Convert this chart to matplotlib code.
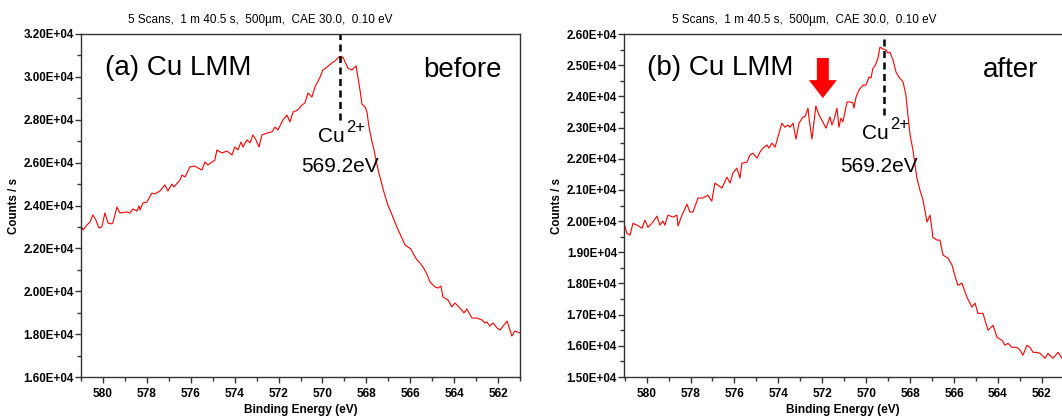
import matplotlib
matplotlib.use('Agg')
import matplotlib.pyplot as plt
from matplotlib.ticker import MultipleLocator, FuncFormatter
from matplotlib.patches import FancyArrow

# 字体设置
plt.rcParams['font.family'] = ['Liberation Sans', 'DejaVu Sans']

scan_info = "5 Scans,  1 m 40.5 s,  500µm,  CAE 30.0,  0.10 eV"
panel_labels = ["(a) Cu LMM", "(b) Cu LMM"]
state_labels = ["before", "after"]
peak_energy = 569.2

# (a) before: binding energy (eV) / counts per second
be_a = [581.05, 580.91, 580.73, 580.59, 580.46, 580.32, 580.18, 580.05, 579.91, 579.77,
        579.59, 579.54, 579.36, 579.23, 578.91, 578.77, 578.63, 578.45, 578.36, 578.31,
        578.18, 578.00, 577.77, 577.63, 577.40, 577.18, 577.04, 576.86, 576.77, 576.49,
        576.40, 576.26, 576.04, 575.81, 575.67, 575.49, 575.35, 575.22, 574.90, 574.81,
        574.58, 574.35, 574.12, 573.99, 573.85, 573.71, 573.62, 573.44, 573.30, 573.17,
        573.03, 572.89, 572.76, 572.53, 572.30, 572.16, 572.03, 571.80, 571.62, 571.48,
        571.34, 571.12, 570.93, 570.80, 570.66, 570.48, 570.34, 570.11, 569.98, 569.79,
        569.57, 569.43,
        569.25, 569.16, 569.07, 568.97, 568.84, 568.66, 568.52, 568.47, 568.38, 568.29,
        568.20, 568.06, 567.97, 567.88, 567.74, 567.65, 567.56, 567.43, 567.33, 567.20,
        567.02, 566.83, 566.61, 566.38, 566.24, 566.10, 565.97, 565.83, 565.69, 565.56,
        565.42, 565.24, 565.10,
        564.87, 564.74, 564.60, 564.51, 564.28, 564.10, 563.96, 563.74, 563.55, 563.42,
        563.19, 562.96, 562.73, 562.60, 562.51, 562.37, 562.23, 562.05, 561.91, 561.59,
        561.37, 561.23, 561.00]
cps_a = [23180, 22860, 23090, 23230, 23560, 23320, 22950, 23000, 23650, 23180,
         23140, 23230, 23930, 23650, 23700, 23650, 23840, 23740, 23980, 23790,
         24120, 24160, 24580, 24540, 24680, 24960, 24680, 25000, 24860, 25190,
         25420, 25330, 25800, 25840, 25750, 25660, 26030, 25890, 26120, 26590,
         26450, 26540, 26360, 26730, 26590, 26960, 26730, 27060, 26920, 27290,
         27060, 26730, 27290, 27380, 27430, 27660, 27520, 27990, 28220, 27900,
         28360, 28460, 28690, 28780, 29250, 29060, 29530, 29990, 30320, 30460,
         30650, 30740,
         30930, 30830, 30930, 30690, 30410, 30320, 30460, 30510, 29950, 29390,
         28730, 28600, 28360, 27660, 26960, 26590, 26120, 25520, 25140, 24630,
         24020, 23560, 23000, 22480, 22160, 22060, 21970, 21690, 21460, 21320,
         21130, 20800, 20430,
         20200, 20150, 20240, 19730, 19590, 19270, 19450, 19220, 18990, 19170,
         18750, 18750, 18660, 18520, 18570, 18380, 18520, 18290, 18190, 18610,
         17910, 18150, 18050]

# (b) after
be_b = [581.03, 580.90, 580.76, 580.62, 580.44, 580.21, 580.08, 579.94, 579.71, 579.53,
        579.39, 579.26, 579.17, 579.03, 578.80, 578.62, 578.57, 578.39, 578.16, 578.03,
        577.89, 577.66, 577.44, 577.21, 577.03, 576.89, 576.75, 576.57, 576.34, 576.20,
        576.07, 575.89, 575.75, 575.66, 575.43, 575.29, 575.16, 574.97, 574.84, 574.70,
        574.52, 574.43, 574.29, 574.15, 574.02,
        573.84, 573.70, 573.56, 573.47, 573.33, 573.20, 573.06, 572.88, 572.79, 572.65,
        572.61, 572.47, 572.29, 572.15, 571.97, 571.83, 571.65, 571.56, 571.47, 571.33,
        571.24, 571.15, 571.06, 570.87, 570.74, 570.60, 570.56, 570.46, 570.33, 570.15,
        570.01, 569.87, 569.78, 569.69, 569.60, 569.46, 569.37, 569.23, 569.10, 569.01,
        568.92, 568.78, 568.64, 568.51, 568.32, 568.19, 568.10, 568.00, 567.87, 567.69,
        567.55, 567.41, 567.23, 567.09, 566.96, 566.77, 566.64, 566.50, 566.27, 566.09,
        565.95, 565.82, 565.64, 565.41, 565.18, 565.04, 564.91, 564.68, 564.45, 564.22,
        564.04, 563.81, 563.68, 563.54, 563.36, 563.13, 562.99, 562.86, 562.67, 562.54,
        562.40, 562.22, 562.08, 561.85, 561.72, 561.49, 561.26, 561.08]
cps_b = [19930, 19610, 19550, 19930, 19870, 19770, 20030, 19800, 19970, 20160,
         19870, 20000, 19870, 20190, 20130, 20190, 19840, 20190, 20540, 20290,
         20290, 20740, 20740, 20830, 20640, 21220, 21150, 21060, 21410, 21220,
         21540, 21700, 21380, 21860, 21890, 22120, 22180, 22020, 22210, 22340,
         22440, 22340, 22500, 22370, 22690,
         23140, 23010, 23080, 23010, 23140, 22630, 23140, 23340, 23340, 23620,
         23340, 22630, 23690, 23400, 23180, 22980, 23340, 23080, 23240, 23620,
         23010, 23300, 23180, 23820, 23820, 23790, 23620, 23980, 24200, 24360,
         24360, 24620, 24590, 24910, 24970, 25230, 25580, 25520, 25490, 25390,
         25420, 25170, 24780, 24620, 24460, 24040, 23400, 22760, 22280, 21380,
         20990, 20670, 19970, 20190, 19480, 19390, 19390, 18910, 18810, 18590,
         18230, 17940, 18010, 17560, 17240, 17370, 17040, 17040, 16500, 16660,
         16270, 16180, 16020, 16080, 15950, 15950, 15860, 15700, 16020, 15950,
         15790, 15790, 15760, 15600, 15760, 15600, 15790, 15600]

W, H = 1062, 417
fig = plt.figure(figsize=(W / 100, H / 100), dpi=100)
ax_a = fig.add_axes([81 / W, 40 / H, 439 / W, 343 / H])
ax_b = fig.add_axes([624 / W, 40 / H, 438 / W, 343 / H])

sci = FuncFormatter(lambda v, pos: '{:.2E}'.format(v))
edge = '#333333'


def style(ax, xlim, ylim, ymajor):
    ax.set_xlim(*xlim)
    ax.set_ylim(*ylim)
    ax.xaxis.set_major_locator(MultipleLocator(2))
    ax.xaxis.set_minor_locator(MultipleLocator(1))
    ax.yaxis.set_major_locator(MultipleLocator(ymajor))
    ax.yaxis.set_minor_locator(MultipleLocator(ymajor / 2))
    ax.yaxis.set_major_formatter(sci)
    ax.tick_params(which='both', direction='out', color=edge, width=1)
    ax.tick_params(which='major', length=4)
    ax.tick_params(which='minor', length=3)
    ax.tick_params(axis='y', pad=1, labelsize=8.4)
    ax.tick_params(axis='x', pad=4, labelsize=8.6)
    for lab in ax.get_xticklabels() + ax.get_yticklabels():
        lab.set_fontweight('bold')
    for sp in ax.spines.values():
        sp.set_color(edge)
        sp.set_linewidth(1)
    ax.set_xlabel('Binding Energy (eV)', fontsize=8.6, fontweight='bold')
    ax.set_ylabel('Counts / s', fontsize=8.3, fontweight='bold')
    ax.xaxis.set_label_coords(0.5, -0.078)
    ax.yaxis.set_label_coords(-0.139, 0.5)


def cu_label(ax, y):
    # Cu 加上标 2+
    ax.annotate('Cu', xy=(peak_energy, y), xytext=(-16, 0), textcoords='offset points',
                fontsize=15, ha='left', va='center')
    ax.annotate('2+', xy=(peak_energy, y), xytext=(4.5, 6.5), textcoords='offset points',
                fontsize=12, ha='left', va='center')


# (a) before
ax_a.plot(be_a, cps_a, color='red', lw=0.8)
style(ax_a, (581.0, 561.0), (16000, 32000), 2000)
ax_a.plot([peak_energy, peak_energy], [27990, 32000], color='black', lw=1.8,
          dashes=(2.8, 1.8))
ax_a.text(0.055, 0.90, panel_labels[0], transform=ax_a.transAxes, fontsize=20,
          ha='left', va='center')
ax_a.text(0.959, 0.895, state_labels[0], transform=ax_a.transAxes, fontsize=20,
          ha='right', va='center')
cu_label(ax_a, 27240)
ax_a.text(peak_energy, 25800, '569.2eV', fontsize=15, ha='center', va='center')

# (b) after
ax_b.plot(be_b, cps_b, color='red', lw=0.8)
style(ax_b, (581.03, 561.08), (15000, 26000), 1000)
ax_b.spines['right'].set_visible(False)
ax_b.plot([peak_energy, peak_energy], [23400, 26000], color='black', lw=1.8,
          dashes=(2.8, 1.8))
ax_b.text(0.0525, 0.90, panel_labels[1], transform=ax_b.transAxes, fontsize=20,
          ha='left', va='center')
ax_b.text(0.945, 0.895, state_labels[1], transform=ax_b.transAxes, fontsize=20,
          ha='right', va='center')
cu_label(ax_b, 22820)
ax_b.text(569.42, 21760, '569.2eV', fontsize=15, ha='center', va='center')
# 红色箭头
ax_b.add_patch(FancyArrow(0.454, 0.930, 0, -0.117, width=0.0274, head_width=0.064,
                          head_length=0.0525, length_includes_head=True,
                          transform=ax_b.transAxes, color='red', lw=0))

# 标题
fig.text(260 / W, 1 - 20 / H, scan_info, ha='center', va='center', fontsize=8.5)
fig.text(804 / W, 1 - 20 / H, scan_info, ha='center', va='center', fontsize=8.5)

fig.savefig('out.png', dpi=100)
